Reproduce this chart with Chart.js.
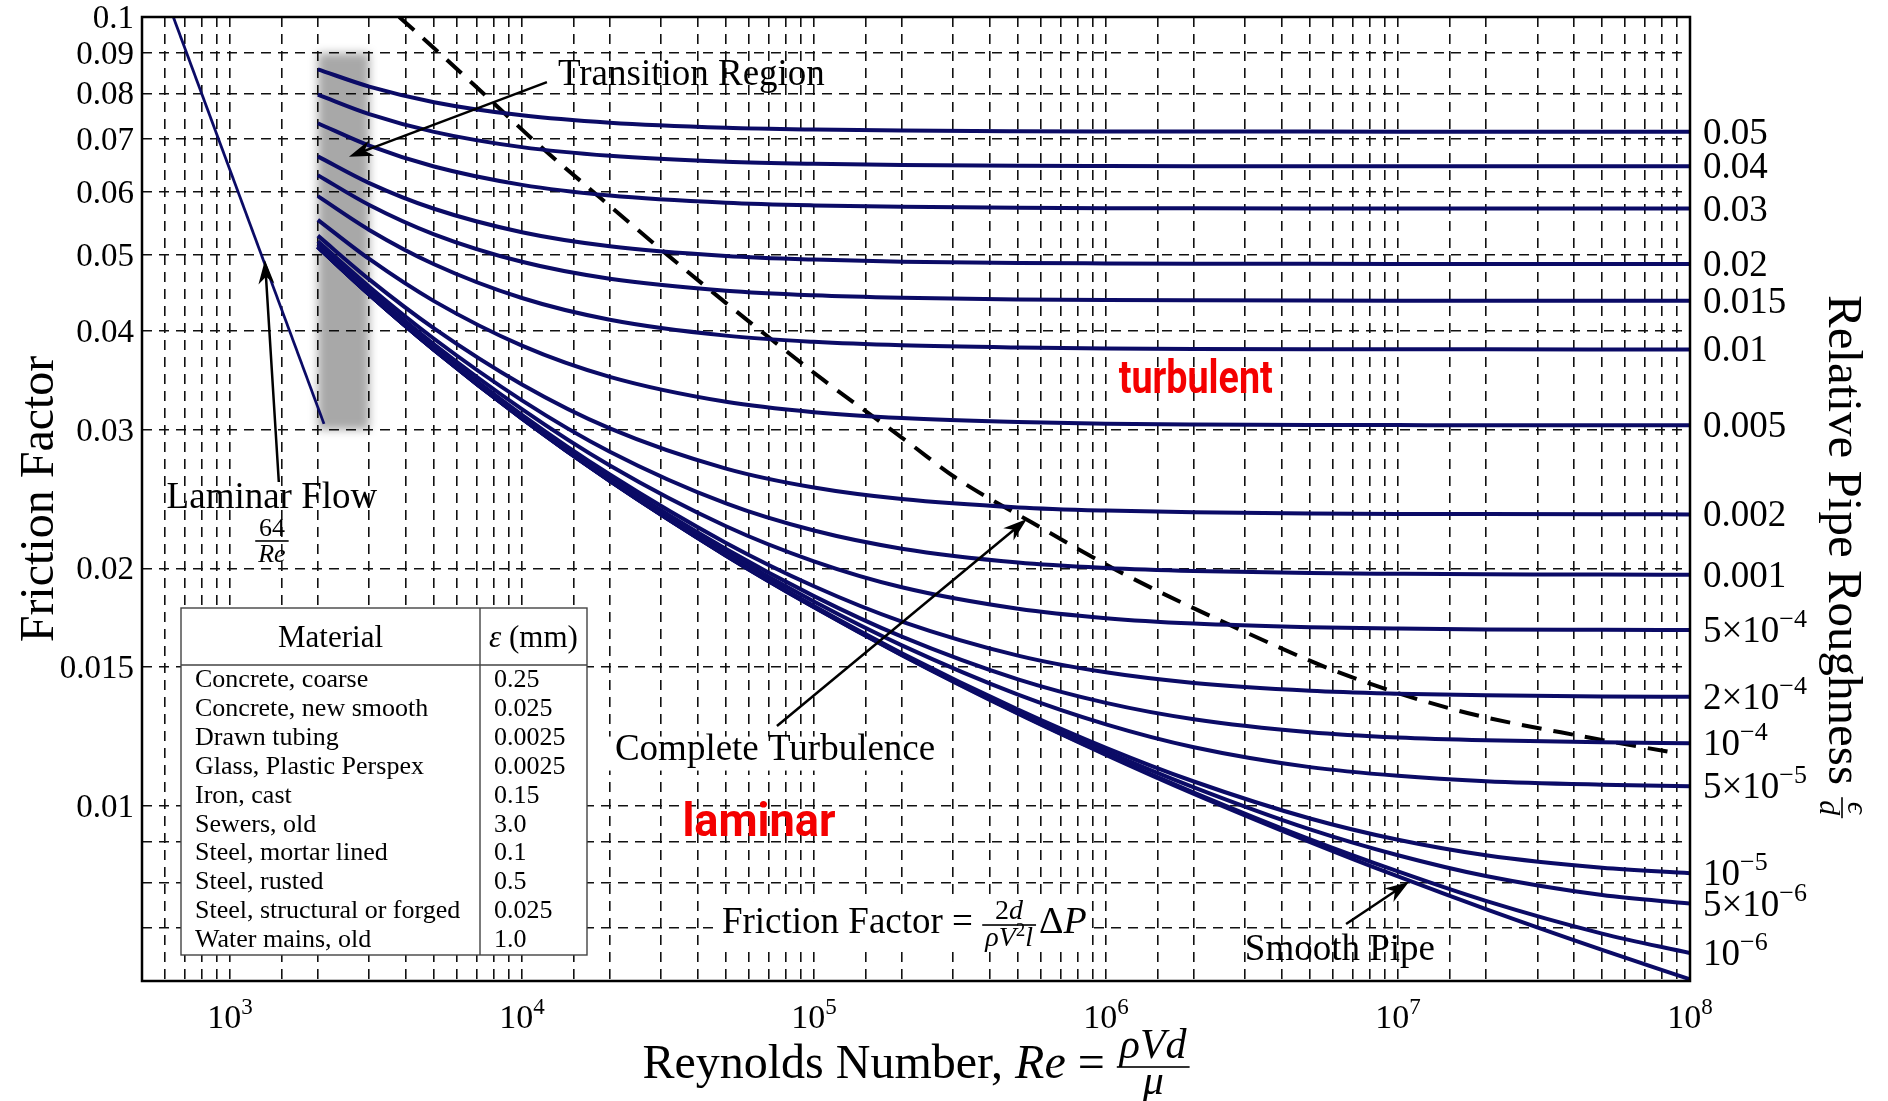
<!DOCTYPE html>
<html>
<head>
<meta charset="utf-8">
<title>Moody Diagram</title>
<script src="https://cdn.jsdelivr.net/npm/chart.js@4.4.1/dist/chart.umd.min.js"></script>
<style>
  html, body { margin: 0; padding: 0; background: #fff; }
  #wrap { width: 1888px; height: 1101px; position: relative; }
</style>
</head>
<body>
<div id="wrap"><canvas id="chart"></canvas></div>
<script>
const reynolds = [2e3, 3e3, 5e3, 1e4, 2e4, 5e4, 1e5, 2e5, 5e5, 1e6, 2e6, 5e6, 1e7, 2e7, 5e7, 1e8];

// friction factor for each relative roughness (eps/d)
const rough050 = [0.08584, 0.08162, 0.07799, 0.07505, 0.07344, 0.07238, 0.07200, 0.07179, 0.07166, 0.07161, 0.07158, 0.07157, 0.07156, 0.07156, 0.07155, 0.07155];
const rough040 = [0.07972, 0.07532, 0.07152, 0.06840, 0.06669, 0.06556, 0.06515, 0.06493, 0.06478, 0.06473, 0.06470, 0.06469, 0.06468, 0.06468, 0.06467, 0.06467];
const rough030 = [0.07334, 0.06870, 0.06464, 0.06127, 0.05940, 0.05816, 0.05770, 0.05746, 0.05730, 0.05724, 0.05721, 0.05719, 0.05718, 0.05718, 0.05717, 0.05717];
const rough020 = [0.06658, 0.06159, 0.05714, 0.05336, 0.05122, 0.04979, 0.04926, 0.04897, 0.04878, 0.04872, 0.04868, 0.04866, 0.04865, 0.04864, 0.04864, 0.04864];
const rough015 = [0.06302, 0.05778, 0.05304, 0.04895, 0.04659, 0.04499, 0.04439, 0.04407, 0.04386, 0.04378, 0.04374, 0.04371, 0.04370, 0.04370, 0.04369, 0.04369];
const rough010 = [0.05928, 0.05372, 0.04860, 0.04404, 0.04134, 0.03946, 0.03875, 0.03836, 0.03811, 0.03801, 0.03796, 0.03793, 0.03792, 0.03791, 0.03790, 0.03790];
const rough005 = [0.05533, 0.04935, 0.04364, 0.03833, 0.03499, 0.03253, 0.03156, 0.03102, 0.03066, 0.03052, 0.03045, 0.03040, 0.03039, 0.03038, 0.03037, 0.03037];
const rough002 = [0.05283, 0.04650, 0.04030, 0.03422, 0.03010, 0.02677, 0.02533, 0.02449, 0.02390, 0.02368, 0.02356, 0.02348, 0.02345, 0.02344, 0.02343, 0.02342];
const rough001 = [0.05197, 0.04551, 0.03910, 0.03267, 0.02812, 0.02418, 0.02234, 0.02119, 0.02035, 0.02003, 0.01985, 0.01973, 0.01969, 0.01966, 0.01965, 0.01964];
const rough5e4 = [0.05153, 0.04500, 0.03848, 0.03184, 0.02701, 0.02262, 0.02042, 0.01893, 0.01778, 0.01730, 0.01703, 0.01685, 0.01678, 0.01674, 0.01672, 0.01671];
const rough2e4 = [0.05127, 0.04470, 0.03810, 0.03132, 0.02631, 0.02155, 0.01899, 0.01713, 0.01551, 0.01477, 0.01432, 0.01400, 0.01388, 0.01381, 0.01376, 0.01375];
const rough1e4 = [0.05118, 0.04459, 0.03797, 0.03115, 0.02606, 0.02117, 0.01845, 0.01639, 0.01447, 0.01351, 0.01288, 0.01240, 0.01221, 0.01211, 0.01204, 0.01201];
const rough5e5 = [0.05114, 0.04454, 0.03791, 0.03106, 0.02594, 0.02097, 0.01816, 0.01598, 0.01384, 0.01269, 0.01187, 0.01120, 0.01092, 0.01075, 0.01064, 0.01059];
const rough1e5 = [0.05110, 0.04450, 0.03786, 0.03099, 0.02584, 0.02080, 0.01792, 0.01562, 0.01325, 0.01185, 0.01074, 0.00964, 0.00906, 0.00866, 0.00835, 0.00822];
const rough5e6 = [0.05110, 0.04450, 0.03785, 0.03098, 0.02583, 0.02078, 0.01789, 0.01558, 0.01317, 0.01173, 0.01056, 0.00934, 0.00866, 0.00815, 0.00771, 0.00752];
const rough1e6 = [0.05109, 0.04449, 0.03785, 0.03097, 0.02582, 0.02076, 0.01787, 0.01554, 0.01311, 0.01163, 0.01040, 0.00907, 0.00826, 0.00758, 0.00689, 0.00651];
const smoothPipe = [0.05109, 0.04449, 0.03785, 0.03097, 0.02581, 0.02076, 0.01786, 0.01553, 0.01309, 0.01161, 0.01036, 0.00900, 0.00814, 0.00740, 0.00657, 0.00603];

// right hand labels of the curves
const roughBase = ['0.05', '0.04', '0.03', '0.02', '0.015', '0.01', '0.005', '0.002', '0.001', '5×10', '2×10', '10', '5×10', '10', '5×10', '10'];
const roughExp = ['', '', '', '', '', '', '', '', '', '−4', '−4', '−4', '−5', '−5', '−6', '−6'];

// laminar line 64/Re
const laminarRe = [640, 2100];
const laminarF = [0.1, 0.0305];

// dashed line: start of complete turbulence
const completeRe = [3800, 5240, 7590, 11250, 18060, 30400, 44000, 66900, 107400, 213000, 304000, 554000, 1087000, 2710000, 6480000, 16180000, 45500000, 85900000];
const completeF = [0.1, 0.0899, 0.0792, 0.0692, 0.0595, 0.0505, 0.0451, 0.0398, 0.0347, 0.0288, 0.0261, 0.0229, 0.0199, 0.0169, 0.0147, 0.0132, 0.0122, 0.0117];

// transition region (shaded)
const bandRe = [2000, 3000];
const bandF = [0.03, 0.09];

// axes
const xTickPowers = [3, 4, 5, 6, 7, 8];
const yTickValues = [0.1, 0.09, 0.08, 0.07, 0.06, 0.05, 0.04, 0.03, 0.02, 0.015, 0.01];
const yTickLabels = ['0.1', '0.09', '0.08', '0.07', '0.06', '0.05', '0.04', '0.03', '0.02', '0.015', '0.01'];
const yGridValues = [0.1, 0.09, 0.08, 0.07, 0.06, 0.05, 0.04, 0.03, 0.02, 0.015, 0.01, 0.009, 0.008, 0.007, 0.006];

// material table
const materials = ['Concrete, coarse', 'Concrete, new smooth', 'Drawn tubing', 'Glass, Plastic Perspex', 'Iron, cast',
  'Sewers, old', 'Steel, mortar lined', 'Steel, rusted', 'Steel, structural or forged', 'Water mains, old'];
const materialEps = ['0.25', '0.025', '0.0025', '0.0025', '0.15', '3.0', '0.1', '0.5', '0.025', '1.0'];

const SERIF = '"Liberation Serif", "DejaVu Serif", serif';
const NAVY = '#0b0b66';

// where the annotations sit, in data units (Re, f)
const notes = {
    transition: [13285, 0.0820],
    transitionArrow: [[12180, 0.0827], [2556, 0.0665]],
    laminarText: [1393, 0.02385],
    laminarFrac: [1393, 0.02167],
    laminarArrow: [[1471, 0.02574], [1318, 0.0492]],
    complete: [20820, 0.01145],
    completeArrow: [[74700, 0.01263], [536000, 0.0231]],
    formula: [48400, 0.006902],
    smooth: [2.99e6, 0.00638],
    smoothArrow: [[6.64e6, 0.007087], [1.09e7, 0.008012]],
    turbulent: [2.03e6, 0.03338],
    laminarRed: [64800, 0.00916]
};

function font(size, italic) {
    return (italic ? 'italic ' : '') + size + 'px ' + SERIF;
}

function runWidth(ctx, runs) {
    let w = 0;
    runs.forEach(r => {
        ctx.font = font(r.size, r.italic);
        w += ctx.measureText(r.t).width;
    });
    return w;
}

function drawRuns(ctx, runs, x, y) {
    runs.forEach(r => {
        ctx.font = font(r.size, r.italic);
        ctx.fillText(r.t, x, y - (r.rise || 0));
        x += ctx.measureText(r.t).width;
    });
    return x;
}

function drawFrac(ctx, num, den, x, barY, numDrop, denDrop) {
    const wn = runWidth(ctx, num), wd = runWidth(ctx, den);
    const w = Math.max(wn, wd) + 6;
    drawRuns(ctx, num, x + (w - wn) / 2, barY - numDrop);
    drawRuns(ctx, den, x + (w - wd) / 2, barY + denDrop);
    ctx.fillRect(x, barY - 0.8, w, 1.6);
    return w;
}

function arrow(ctx, x0, y0, x1, y1) {
    const ang = Math.atan2(y1 - y0, x1 - x0);
    const L = 24, W = 8;
    ctx.save();
    ctx.strokeStyle = '#000';
    ctx.fillStyle = '#000';
    ctx.lineWidth = 2.5;
    ctx.beginPath();
    ctx.moveTo(x0, y0);
    ctx.lineTo(x1 - Math.cos(ang) * L * 0.6, y1 - Math.sin(ang) * L * 0.6);
    ctx.stroke();
    ctx.translate(x1, y1);
    ctx.rotate(ang);
    ctx.beginPath();
    ctx.moveTo(0, 0);
    ctx.lineTo(-L, -W);
    ctx.lineTo(-L * 0.7, 0);
    ctx.lineTo(-L, W);
    ctx.closePath();
    ctx.fill();
    ctx.restore();
}

function redWord(ctx, text, cx, baseY, targetW) {
    ctx.save();
    ctx.font = 'bold 47px Roboto, "Open Sans", sans-serif';
    const s = targetW / ctx.measureText(text).width;
    ctx.translate(cx, baseY);
    ctx.scale(s, 1);
    ctx.textAlign = 'center';
    ctx.fillStyle = '#f40000';
    ctx.fillText(text, 0, 0);
    ctx.restore();
}

const moodyPlugin = {
    id: 'moody',
    beforeDatasetsDraw(chart) {
        const { ctx, scales: { x, y } } = chart;
        const x0 = x.getPixelForValue(bandRe[0]), x1 = x.getPixelForValue(bandRe[1]);
        const y0 = y.getPixelForValue(bandF[1]), y1 = y.getPixelForValue(bandF[0]);
        ctx.save();
        ctx.filter = 'blur(5px)';
        ctx.fillStyle = 'rgba(0,0,0,0.34)';
        ctx.fillRect(x0, y0, x1 - x0, y1 - y0);
        ctx.restore();
    },
    afterDatasetsDraw(chart) {
        const { ctx, chartArea: a, scales: { x, y } } = chart;
        const P = p => [x.getPixelForValue(p[0]), y.getPixelForValue(p[1])];
        ctx.save();
        ctx.fillStyle = '#000';
        ctx.textAlign = 'left';
        ctx.textBaseline = 'alphabetic';

        // frame
        ctx.strokeStyle = '#000';
        ctx.lineWidth = 2.5;
        ctx.strokeRect(a.left, a.top, a.right - a.left, a.bottom - a.top);

        // material table
        const tl = a.left + 39, tt = a.top + 591, tw = 406, th = 347, col = 299;
        ctx.fillStyle = '#fff';
        ctx.fillRect(tl, tt, tw, th);
        ctx.strokeStyle = '#444';
        ctx.lineWidth = 1.4;
        ctx.strokeRect(tl, tt, tw, th);
        ctx.beginPath();
        ctx.moveTo(tl + col, tt); ctx.lineTo(tl + col, tt + th);
        ctx.moveTo(tl, tt + 57); ctx.lineTo(tl + tw, tt + 57);
        ctx.stroke();
        ctx.fillStyle = '#000';
        ctx.font = font(31);
        ctx.textAlign = 'center';
        ctx.fillText('Material', tl + col / 2, tt + 39);
        ctx.textAlign = 'left';
        const hdr = [{ t: 'ε', size: 31, italic: true }, { t: ' (mm)', size: 31 }];
        drawRuns(ctx, hdr, tl + col + (tw - col) / 2 - runWidth(ctx, hdr) / 2, tt + 39);
        ctx.font = font(26);
        materials.forEach((m, i) => {
            const by = tt + 71 + i * 28.9 + 8;
            ctx.fillText(m, tl + 14, by);
            ctx.fillText(materialEps[i], tl + col + 14, by);
        });

        // Transition Region
        let p = P(notes.transition);
        ctx.font = font(37);
        ctx.fillText('Transition Region', p[0], p[1]);
        let q = notes.transitionArrow.map(P);
        arrow(ctx, q[0][0], q[0][1], q[1][0], q[1][1]);

        // Laminar Flow 64/Re
        p = P(notes.laminarText);
        ctx.font = font(37);
        ctx.textAlign = 'center';
        ctx.fillText('Laminar Flow', p[0], p[1]);
        ctx.textAlign = 'left';
        p = P(notes.laminarFrac);
        const num64 = [{ t: '64', size: 26 }], denRe = [{ t: 'Re', size: 26, italic: true }];
        const fw = Math.max(runWidth(ctx, num64), runWidth(ctx, denRe)) + 6;
        drawFrac(ctx, num64, denRe, p[0] - fw / 2, p[1], 5, 21);
        q = notes.laminarArrow.map(P);
        arrow(ctx, q[0][0], q[0][1], q[1][0], q[1][1]);

        // Complete Turbulence
        p = P(notes.complete);
        ctx.font = font(37);
        const ctw = ctx.measureText('Complete Turbulence').width;
        ctx.fillStyle = '#fff';
        ctx.fillRect(p[0] - 7, p[1] - 23, ctw + 15, 34);
        ctx.fillStyle = '#000';
        ctx.fillText('Complete Turbulence', p[0], p[1]);
        q = notes.completeArrow.map(P);
        arrow(ctx, q[0][0], q[0][1], q[1][0], q[1][1]);

        // Friction Factor = 2d/(rho V^2 l) dP
        p = P(notes.formula);
        const lead = [{ t: 'Friction Factor = ', size: 37 }];
        const fnum = [{ t: '2', size: 28 }, { t: 'd', size: 28, italic: true }];
        const fden = [{ t: 'ρV', size: 28, italic: true }, { t: '2', size: 19, rise: 10 }, { t: 'l', size: 28, italic: true }];
        const tail = [{ t: 'Δ', size: 38 }, { t: 'P', size: 38, italic: true }];
        const fracW = Math.max(runWidth(ctx, fnum), runWidth(ctx, fden)) + 6;
        const totalW = runWidth(ctx, lead) + fracW + runWidth(ctx, tail);
        ctx.fillStyle = '#fff';
        ctx.fillRect(p[0] - 7, p[1] - 32, totalW + 14, 50);
        ctx.fillStyle = '#000';
        let cx = drawRuns(ctx, lead, p[0], p[1]);
        cx += drawFrac(ctx, fnum, fden, cx, p[1] - 8, 6, 21);
        drawRuns(ctx, tail, cx + 3, p[1]);

        // Smooth Pipe
        p = P(notes.smooth);
        ctx.font = font(37);
        ctx.fillText('Smooth Pipe', p[0], p[1]);
        q = notes.smoothArrow.map(P);
        arrow(ctx, q[0][0], q[0][1], q[1][0], q[1][1]);

        // red words
        p = P(notes.turbulent);
        redWord(ctx, 'turbulent', p[0], p[1], 154);
        p = P(notes.laminarRed);
        redWord(ctx, 'laminar', p[0], p[1], 153);

        ctx.restore();
    },
    afterDraw(chart) {
        const { ctx, chartArea: a, scales: { x, y } } = chart;
        ctx.save();
        ctx.fillStyle = '#000';
        ctx.textBaseline = 'alphabetic';

        // y tick labels
        ctx.font = font(33);
        ctx.textAlign = 'right';
        yTickValues.forEach((v, i) => {
            ctx.fillText(yTickLabels[i], a.left - 8, y.getPixelForValue(v) + 11);
        });
        ctx.textAlign = 'left';

        // x tick labels 10^n
        xTickPowers.forEach(pw => {
            const gx = x.getPixelForValue(Math.pow(10, pw));
            const runs = [{ t: '10', size: 34 }, { t: String(pw), size: 23, rise: 14 }];
            drawRuns(ctx, runs, gx - runWidth(ctx, runs) / 2, a.bottom + 47);
        });

        // labels at the right end of each curve
        const sets = [rough050, rough040, rough030, rough020, rough015, rough010, rough005, rough002, rough001,
            rough5e4, rough2e4, rough1e4, rough5e5, rough1e5, rough5e6, rough1e6];
        sets.forEach((vals, i) => {
            const cy = y.getPixelForValue(vals[vals.length - 1]);
            const runs = [{ t: roughBase[i], size: 37 }];
            if (roughExp[i]) runs.push({ t: roughExp[i], size: 26, rise: 15 });
            drawRuns(ctx, runs, a.right + 13, cy + 12);
        });

        // x axis title
        const xt = [{ t: 'Reynolds Number, ', size: 48 }, { t: 'Re', size: 48, italic: true }, { t: ' = ', size: 48 }];
        const rnum = [{ t: 'ρVd', size: 42, italic: true }], rden = [{ t: 'μ', size: 42, italic: true }];
        const rfw = Math.max(runWidth(ctx, rnum), runWidth(ctx, rden)) + 6;
        const xw = runWidth(ctx, xt) + rfw;
        const bx = (a.left + a.right) / 2 - xw / 2, by = a.bottom + 97;
        const ex = drawRuns(ctx, xt, bx, by);
        drawFrac(ctx, rnum, rden, ex, by - 11, 9, 27);

        // left title
        ctx.save();
        ctx.translate(53, (a.top + a.bottom) / 2);
        ctx.rotate(-Math.PI / 2);
        ctx.font = font(48);
        ctx.textAlign = 'center';
        ctx.fillText('Friction Factor', 0, 0);
        ctx.restore();

        // right title
        ctx.save();
        ctx.translate(1829, 295);
        ctx.rotate(Math.PI / 2);
        ctx.font = font(49);
        ctx.textAlign = 'left';
        ctx.fillText('Relative Pipe Roughness', 0, 0);
        const rw = ctx.measureText('Relative Pipe Roughness ').width;
        drawFrac(ctx, [{ t: 'ϵ', size: 30, italic: true }], [{ t: 'd', size: 30, italic: true }], rw, -13, 6, 22);
        ctx.restore();

        ctx.restore();
    }
};

const curveSets = [rough050, rough040, rough030, rough020, rough015, rough010, rough005, rough002, rough001,
    rough5e4, rough2e4, rough1e4, rough5e5, rough1e5, rough5e6, rough1e6, smoothPipe];

const datasets = curveSets.map((vals, i) => ({
    label: i < roughBase.length ? 'eps/d ' + roughBase[i] + roughExp[i] : 'smooth',
    data: reynolds.map((re, k) => ({ x: re, y: vals[k] })),
    borderColor: NAVY,
    borderWidth: 4,
    pointRadius: 0,
    cubicInterpolationMode: 'monotone',
    fill: false
}));

datasets.push({
    label: 'laminar',
    data: laminarRe.map((re, k) => ({ x: re, y: laminarF[k] })),
    borderColor: NAVY,
    borderWidth: 2.8,
    pointRadius: 0,
    fill: false
});

datasets.push({
    label: 'complete turbulence',
    data: completeRe.map((re, k) => ({ x: re, y: completeF[k] })),
    borderColor: '#000',
    borderWidth: 4,
    borderDash: [20, 12],
    pointRadius: 0,
    cubicInterpolationMode: 'monotone',
    fill: false
});

const gridStyle = { color: '#111', lineWidth: 1.6, drawTicks: false, tickLength: 0 };

new Chart(document.getElementById('chart').getContext('2d'), {
    type: 'line',
    data: { datasets: datasets },
    options: {
        responsive: true,
        maintainAspectRatio: false,
        devicePixelRatio: 1,
        animation: false,
        layout: { padding: { left: 142, right: 198, top: 17, bottom: 120 } },
        plugins: { legend: { display: false }, tooltip: { enabled: false } },
        scales: {
            x: {
                type: 'logarithmic',
                min: 500,
                max: 1e8,
                ticks: { display: false },
                grid: gridStyle,
                border: { display: false, dash: [10, 7] }
            },
            y: {
                type: 'logarithmic',
                min: 0.006,
                max: 0.1,
                ticks: { display: false },
                afterBuildTicks: scale => { scale.ticks = yGridValues.map(v => ({ value: v })); },
                grid: gridStyle,
                border: { display: false, dash: [10, 7] }
            }
        }
    },
    plugins: [moodyPlugin]
});
</script>
</body>
</html>
